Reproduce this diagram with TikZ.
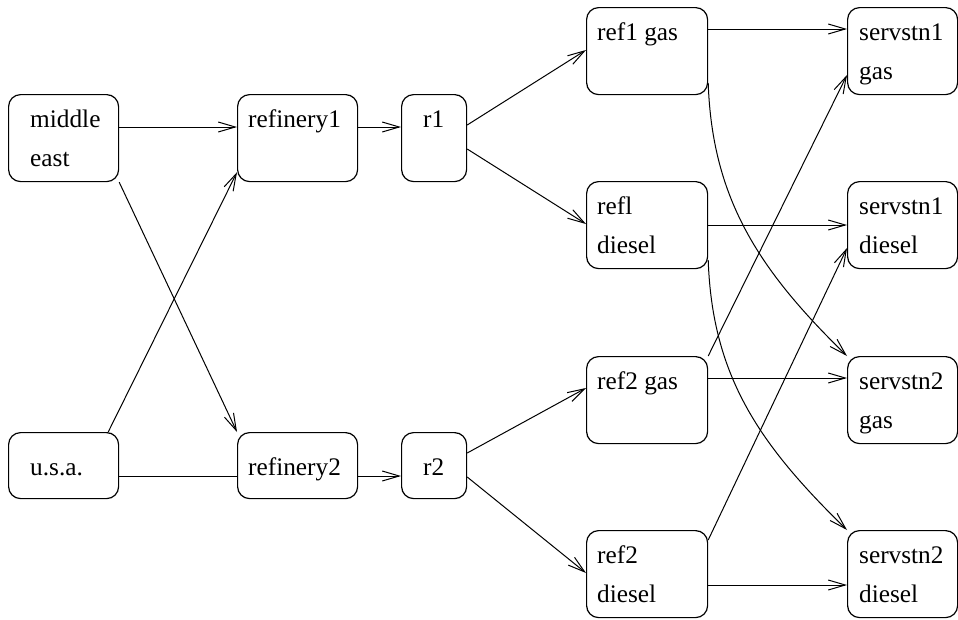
\documentclass[tikz,border=0pt]{standalone}
\usepackage{fontspec}
\setmainfont{Liberation Serif}
\usetikzlibrary{arrows.meta,calc}

\begin{document}
\begin{tikzpicture}[x=1pt,y=-1pt,
  box/.style={draw, line width=1.2pt, rounded corners=12pt, inner sep=0pt, anchor=north west},
  tall/.style={box, minimum height=87pt},
  short/.style={box, minimum height=66pt},
  lbl/.style={anchor=base west, inner sep=0pt, font=\fontsize{25.3}{30}\selectfont},
  flow/.style={line width=1pt, -{Straight Barb[length=17pt,width=10pt]}},
  link/.style={line width=1pt}]
\useasboundingbox (0,0) rectangle (958,619);

% crude sources
\node[tall,  minimum width=110pt] (me)  at (8,94) {};
\node[short, minimum width=110pt] (usa) at (8,432) {};
% refineries
\node[tall,  minimum width=120pt] (rf1) at (237,94) {};
\node[short, minimum width=120pt] (rf2) at (237,432) {};
\node[tall,  minimum width=65pt]  (r1)  at (401,94) {};
\node[short, minimum width=65pt]  (r2)  at (401,432) {};
% refinery products
\node[tall, minimum width=121pt] (g1) at (586,7) {};
\node[tall, minimum width=121pt] (d1) at (586,181) {};
\node[tall, minimum width=121pt] (g2) at (586,356) {};
\node[tall, minimum width=121pt] (d2) at (586,530) {};
% service stations
\node[tall, minimum width=110pt] (s1g) at (847,7) {};
\node[tall, minimum width=110pt] (s1d) at (847,181) {};
\node[tall, minimum width=110pt] (s2g) at (847,356) {};
\node[tall, minimum width=110pt] (s2d) at (847,530) {};

% labels
\node[lbl] (me-a)  at ($(me.north west)+(22,33)$) {middle};
\node[lbl] (me-b)  at ($(me.north west)+(22,72)$) {east};
\node[lbl] (usa-a) at ($(usa.north west)+(22,43)$) {u.s.a.};
\node[lbl] (rf1-a) at ($(rf1.north west)+(11,33)$) {refinery1};
\node[lbl] (rf2-a) at ($(rf2.north west)+(11,43)$) {refinery2};
\node[lbl] (r1-a)  at ($(r1.north west)+(22,33)$) {r1};
\node[lbl] (r2-a)  at ($(r2.north west)+(22,43)$) {r2};
\node[lbl] (g1-a)  at ($(g1.north west)+(11,33)$) {ref1 gas};
\node[lbl] (d1-a)  at ($(d1.north west)+(11,33)$) {refl};
\node[lbl] (d1-b)  at ($(d1.north west)+(11,72)$) {diesel};
\node[lbl] (g2-a)  at ($(g2.north west)+(11,33)$) {ref2 gas};
\node[lbl] (d2-a)  at ($(d2.north west)+(11,33)$) {ref2};
\node[lbl] (d2-b)  at ($(d2.north west)+(11,72)$) {diesel};
\node[lbl] (s1g-a) at ($(s1g.north west)+(12,33)$) {servstn1};
\node[lbl] (s1g-b) at ($(s1g.north west)+(12,72)$) {gas};
\node[lbl] (s1d-a) at ($(s1d.north west)+(12,33)$) {servstn1};
\node[lbl] (s1d-b) at ($(s1d.north west)+(12,72)$) {diesel};
\node[lbl] (s2g-a) at ($(s2g.north west)+(12,33)$) {servstn2};
\node[lbl] (s2g-b) at ($(s2g.north west)+(12,72)$) {gas};
\node[lbl] (s2d-a) at ($(s2d.north west)+(12,33)$) {servstn2};
\node[lbl] (s2d-b) at ($(s2d.north west)+(12,72)$) {diesel};

% crude to refineries
\draw[flow] ($(me.north east)+(0,33)$) -- ($(rf1.north west)+(0,33)$);
\draw[flow] (me.south east) -- (rf2.north west);
\draw[flow] ($(usa.north east)+(-11,0)$) -- ($(rf1.south west)+(0,-10)$);
\draw[link] ($(usa.north east)+(0,44)$) -- ($(rf2.north west)+(0,44)$);

% refineries to their outputs
\draw[flow] ($(rf1.north east)+(0,33)$) -- ($(r1.north west)+(0,33)$);
\draw[flow] ($(rf2.north east)+(0,44)$) -- ($(r2.north west)+(0,44)$);
\draw[flow] ($(r1.north east)+(0,31)$) -- ($(g1.north west)+(0,43)$);
\draw[flow] ($(r1.north east)+(0,55)$) -- ($(d1.north west)+(0,43)$);
\draw[flow] ($(r2.north east)+(0,21)$) -- ($(g2.north west)+(0,32)$);
\draw[flow] ($(r2.north east)+(0,45)$) -- ($(d2.north west)+(0,43)$);

% products to service stations
\draw[flow] ($(g1.north east)+(0,22)$) -- ($(s1g.north west)+(0,22)$);
\draw[flow] ($(d1.north east)+(0,44)$) -- ($(s1d.north west)+(0,44)$);
\draw[flow] ($(g2.north east)+(0,22)$) -- ($(s2g.north west)+(0,22)$);
\draw[flow] ($(d2.north east)+(0,55)$) -- ($(s2d.north west)+(0,55)$);
\draw[flow] (g2.north east) -- ($(s1g.north west)+(0,68)$);
\draw[flow] ($(d2.north east)+(0,10)$) -- ($(s1d.north west)+(0,67)$);
\draw[flow] ($(g1.north east)+(0,76)$) .. controls +(4,117) and +(-87,-85) .. (s2g.north west);
\draw[flow] ($(d1.north east)+(0,79)$) .. controls +(4,117) and +(-87,-85) .. (s2d.north west);
\end{tikzpicture}
\end{document}
